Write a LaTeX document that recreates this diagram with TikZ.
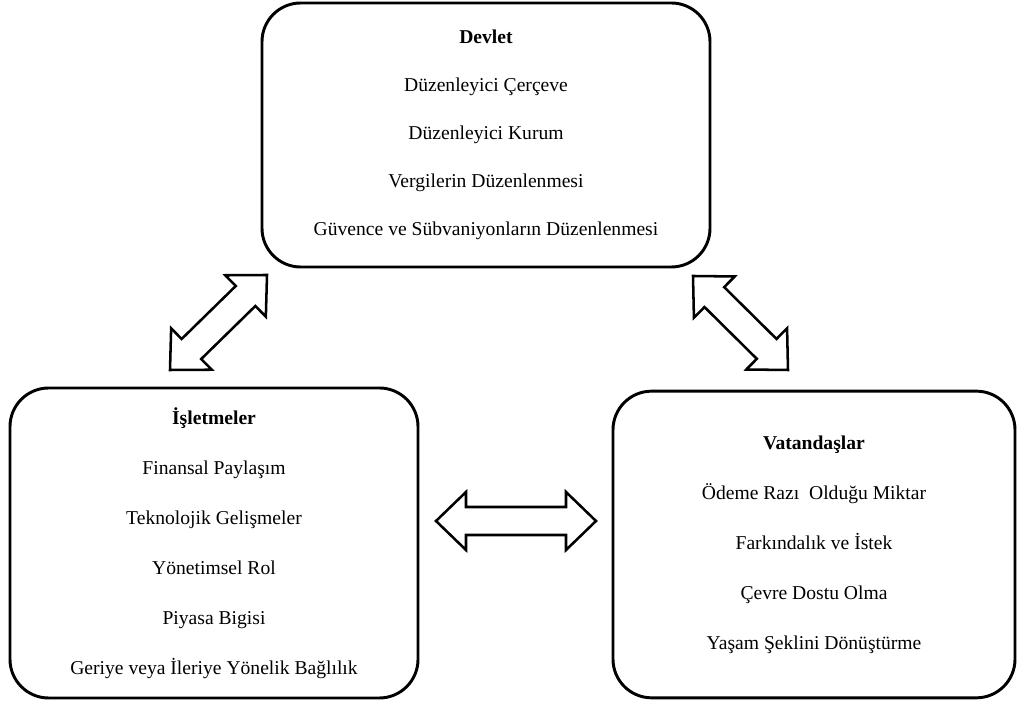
\documentclass[tikz,border=0pt]{standalone}
\usepackage{fontspec}
\setmainfont{LiberationSerif}[Extension=.ttf, UprightFont=*-Regular, BoldFont=*-Bold,
  ItalicFont=*-Italic, BoldItalicFont=*-BoldItalic]
\usetikzlibrary{calc}

\tikzset{
  panel/.style={draw, line width=2.2pt, rounded corners=29pt, align=center, inner sep=0pt},
  blockarrow/.style={draw, line width=1.9pt, fill=white, line join=miter},
}

\begin{document}
\begin{tikzpicture}[x=0.75pt, y=0.75pt, font=\fontsize{14.7}{36}\selectfont]
\useasboundingbox (0,0) rectangle (1017,702);
% Devlet panel, top centre
\node[panel, minimum width=336pt, minimum height=198pt] (devlet) at (486,567)
  {\textbf{Devlet}\\ Düzenleyici Çerçeve\\ Düzenleyici Kurum\\ Vergilerin Düzenlenmesi\\
   Güvence ve Sübvaniyonların Düzenlenmesi};
% İşletmeler panel, bottom left
\node[panel, minimum width=306pt, minimum height=232.5pt,
      font=\fontsize{14.7}{37.5}\selectfont] (isletme) at (214,159)
  {\textbf{İşletmeler}\\ Finansal Paylaşım\\ Teknolojik Gelişmeler\\ Yönetimsel Rol\\
   Piyasa Bigisi\\ Geriye veya İleriye Yönelik Bağlılık};
% Vatandaşlar panel, bottom right
\node[panel, minimum width=301.5pt, minimum height=230pt,
      font=\fontsize{14.7}{37.5}\selectfont] (vatandas) at (814,157.5)
  {\textbf{Vatandaşlar}\\ Ödeme Razı~ Olduğu Miktar\\ Farkındalık ve İstek\\
   Çevre Dostu Olma\\ Yaşam Şeklini Dönüştürme};
% arrow ends
\coordinate (ld) at (170,332);
\coordinate (lu) at (267,427);
\coordinate (ru) at (693,426);
\coordinate (rd) at (788,332);
\coordinate (ml) at (436,181);
\coordinate (mr) at (596,181);
% hollow double arrows
\foreach \a/\b in {ld/lu, ru/rd, ml/mr}
  \draw[blockarrow] (\a)
    -- ($(\a)!22.5pt!(\b)!21.75pt!90:(\b)$) -- ($(\a)!22.5pt!(\b)!10.5pt!90:(\b)$)
    -- ($(\b)!22.5pt!(\a)!10.5pt!-90:(\a)$) -- ($(\b)!22.5pt!(\a)!21.75pt!-90:(\a)$)
    -- (\b)
    -- ($(\b)!22.5pt!(\a)!21.75pt!90:(\a)$) -- ($(\b)!22.5pt!(\a)!10.5pt!90:(\a)$)
    -- ($(\a)!22.5pt!(\b)!10.5pt!-90:(\b)$) -- ($(\a)!22.5pt!(\b)!21.75pt!-90:(\b)$)
    -- cycle;
\end{tikzpicture}
\end{document}
